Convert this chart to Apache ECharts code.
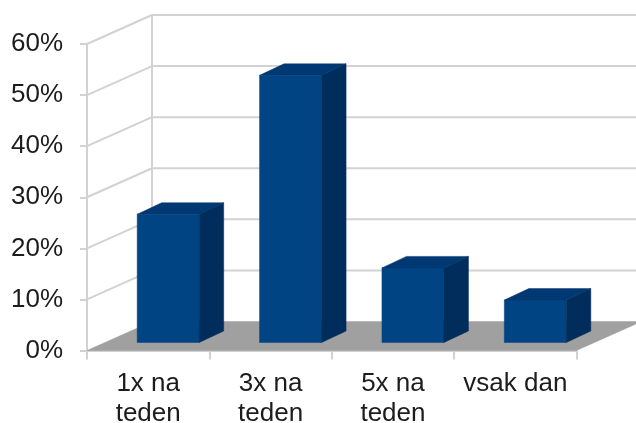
<!DOCTYPE html>
<html>
<head>
<meta charset="utf-8">
<title>chart</title>
<script src="https://cdn.jsdelivr.net/npm/echarts@6/dist/echarts.min.js"></script>
<style>
  html, body { margin: 0; padding: 0; background: #fff; }
  #chartBar { width: 636px; height: 423px; }
</style>
</head>
<body>
<div id="chartBar"></div>
<script>
  const categories = ['1x na\nteden', '3x na\nteden', '5x na\nteden', 'vsak dan'];
  const percents = [25.1, 52.3, 14.6, 8.3];
  const wallTicks = [10, 20, 30, 40, 50, 60];

  // fake 3d: how far the back wall and the bar sides are shifted
  const WALL_DX = 65, WALL_DY = -29;
  const BAR_DX = 24.5, BAR_DY = -11.5;
  const BAR_SHIFT = 20, BAR_LIFT = 8, BAR_WIDTH = 62;
  const GRID_COLOR = '#d2d2d2';

  function poly(points, color) {
    return { type: 'polygon', shape: { points: points }, style: { fill: color, stroke: color, lineWidth: 0.5 } };
  }
  function line(x1, y1, x2, y2) {
    return {
      type: 'line',
      shape: { x1: x1, y1: y1, x2: x2, y2: y2 },
      style: { stroke: GRID_COLOR, lineWidth: 2, fill: null }
    };
  }

  const chartBar = echarts.init(document.getElementById('chartBar'));
  chartBar.setOption({
    animation: false,
    textStyle: { fontFamily: '"Liberation Sans", Arial, sans-serif' },
    grid: { left: 87, top: 44, width: 489.5, height: 306.5, containLabel: false, outerBoundsMode: 'none' },
    xAxis: {
      type: 'category',
      data: categories,
      axisLine: { show: true, lineStyle: { color: GRID_COLOR, width: 2 } },
      axisTick: { show: true, length: 9, lineStyle: { color: GRID_COLOR, width: 2 } },
      axisLabel: { color: '#1c1c1c', fontSize: 26, lineHeight: 30, margin: 18, interval: 0 }
    },
    yAxis: {
      type: 'value',
      min: 0,
      max: 60,
      interval: 10,
      splitLine: { show: false },
      axisLine: { show: true, lineStyle: { color: GRID_COLOR, width: 2 } },
      axisTick: { show: true, length: 7, lineStyle: { color: GRID_COLOR, width: 2 } },
      axisLabel: { color: '#1c1c1c', fontSize: 26, margin: 24, padding: [3, 0, 0, 0], formatter: '{value}%' }
    },
    series: [
      {
        // floor and the back wall edge
        type: 'custom',
        silent: true,
        z: 1,
        data: [[0, 0]],
        encode: { x: 0, y: 1 },
        renderItem: function (params, api) {
          const cs = params.coordSys;
          const x0 = cs.x, x1 = cs.x + cs.width, yb = cs.y + cs.height;
          return {
            type: 'group',
            children: [
              poly([[x0, yb], [x0 + WALL_DX, yb + WALL_DY], [x1 + WALL_DX, yb + WALL_DY], [x1, yb]], '#a0a0a0'),
              line(x0 + WALL_DX, cs.y + WALL_DY, x0 + WALL_DX, yb + WALL_DY)
            ]
          };
        }
      },
      {
        // gridlines: diagonal on the side wall, then flat across the back wall
        type: 'custom',
        silent: true,
        z: 2,
        data: wallTicks.map(t => [0, t]),
        encode: { x: 0, y: 1 },
        renderItem: function (params, api) {
          const cs = params.coordSys;
          const y = api.coord([0, api.value(1)])[1];
          return {
            type: 'group',
            children: [
              line(cs.x, y, cs.x + WALL_DX, y + WALL_DY),
              line(cs.x + WALL_DX, y + WALL_DY, cs.x + cs.width + WALL_DX, y + WALL_DY)
            ]
          };
        }
      },
      {
        type: 'custom',
        silent: true,
        z: 3,
        data: percents.map((p, i) => [i, p]),
        encode: { x: 0, y: 1 },
        renderItem: function (params, api) {
          const top = api.coord([api.value(0), api.value(1)]);
          const base = api.coord([api.value(0), 0]);
          const l = top[0] + BAR_SHIFT - BAR_WIDTH / 2;
          const r = l + BAR_WIDTH;
          const t = top[1] - BAR_LIFT;
          const b = base[1] - BAR_LIFT;
          return {
            type: 'group',
            children: [
              poly([[l, b], [l, t], [r, t], [r, b]], '#004483'),
              poly([[l, t], [l + BAR_DX, t + BAR_DY], [r + BAR_DX, t + BAR_DY], [r, t]], '#003873'),
              poly([[r, t], [r + BAR_DX, t + BAR_DY], [r + BAR_DX, b + BAR_DY], [r, b]], '#002d5b')
            ]
          };
        }
      }
    ]
  });
</script>
</body>
</html>
